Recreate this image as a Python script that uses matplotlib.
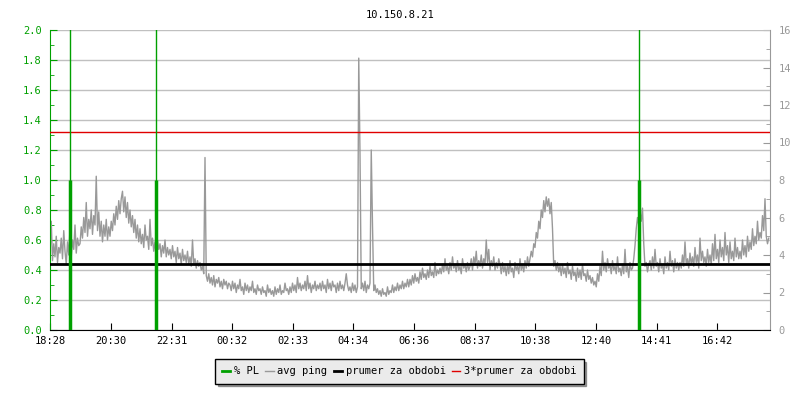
import numpy as np
import matplotlib
matplotlib.use('Agg')
import matplotlib.pyplot as plt
from matplotlib.ticker import MultipleLocator

# data -----------------------------------------------------------------
title = '10.150.8.21'
start = '18:28'
tick_labels = ['18:28', '20:30', '22:31', '00:32', '02:33', '04:34',
               '06:36', '08:37', '10:38', '12:40', '14:41', '16:42']

# avg ping [ms], one value every 2.5 minutes from 18:28 (one row = 1 hour)
ping_ms = [
    4.0, 5.8, 3.7, 4.6, 3.9, 5.0, 3.6, 4.4, 4.1, 4.9, 3.8, 5.3, 4.2, 3.5, 4.7, 4.0, 5.4, 3.9, 4.8, 4.3, 5.6, 4.1, 4.9, 4.5,
    4.6, 5.5, 4.9, 6.0, 5.2, 6.8, 5.0, 5.9, 5.4, 6.4, 5.1, 6.1, 5.6, 8.2, 5.3, 6.3, 5.0, 5.8, 4.7, 5.6, 5.0, 5.9, 4.8, 5.5,
    5.0, 5.8, 5.3, 6.2, 5.6, 6.6, 5.9, 6.9, 6.2, 7.0, 7.4, 6.3, 7.1, 6.0, 6.8, 5.7, 6.4, 5.5, 6.1, 5.2, 5.9, 4.9, 5.6, 4.7,
    5.4, 4.6, 5.1, 4.4, 5.6, 4.8, 5.0, 4.3, 5.9, 4.5, 4.9, 4.2, 4.7, 4.0, 4.8, 4.3, 4.6, 3.9, 4.5, 4.1, 4.8, 3.9, 4.4, 4.0,
    4.3, 3.8, 4.5, 3.9, 4.2, 3.6, 4.4, 3.8, 4.1, 3.5, 4.3, 3.7, 4.0, 3.6, 4.2, 3.5, 3.9, 3.4, 4.8, 3.5, 3.8, 3.3, 3.7, 3.4,
    3.6, 3.2, 3.4, 3.0, 9.2, 2.9, 2.6, 3.0, 2.5, 2.8, 2.4, 2.9, 2.3, 2.7, 2.5, 2.8, 2.3, 2.6, 2.2, 2.7, 2.4, 2.6, 2.2, 2.5,
    2.4, 2.1, 2.6, 2.2, 2.5, 2.0, 2.4, 2.2, 2.7, 2.1, 2.3, 1.9, 2.5, 2.1, 2.4, 2.0, 2.3, 2.1, 2.6, 2.0, 2.2, 1.9, 2.4, 2.1,
    2.2, 1.9, 2.3, 2.0, 2.1, 1.8, 2.4, 2.0, 2.2, 1.9, 2.1, 1.8, 2.3, 1.9, 2.2, 2.0, 2.4, 1.9, 2.1, 2.0, 2.5, 2.1, 2.2, 1.9,
    2.3, 2.0, 2.5, 2.1, 2.4, 2.0, 2.8, 2.2, 2.5, 2.1, 2.4, 2.2, 2.6, 2.1, 2.9, 2.2, 2.5, 2.0, 2.4, 2.2, 2.6, 2.1, 2.4, 2.2,
    2.5, 2.1, 2.6, 2.2, 2.4, 2.0, 2.7, 2.2, 2.5, 2.1, 2.6, 2.3, 2.4, 2.0, 2.5, 2.1, 2.6, 2.2, 2.4, 2.1, 2.5, 3.0, 2.4, 2.1,
    2.3, 2.0, 2.5, 2.1, 2.4, 2.0, 2.3, 14.5, 9.4, 2.2, 2.5, 2.1, 2.6, 2.0, 2.4, 2.2, 2.5, 9.6, 5.6, 2.1, 2.4, 2.0, 2.2, 1.9,
    2.1, 1.8, 2.2, 1.9, 2.0, 1.8, 2.3, 1.9, 2.1, 2.0, 2.4, 2.0, 2.3, 2.1, 2.5, 2.1, 2.4, 2.2, 2.6, 2.2, 2.5, 2.3, 2.7, 2.3,
    2.7, 2.4, 2.9, 2.5, 3.0, 2.6, 2.8, 2.5, 3.1, 2.7, 3.3, 2.8, 3.0, 2.7, 3.2, 2.8, 3.4, 2.9, 3.1, 2.8, 3.6, 2.9, 3.2, 3.0,
    3.3, 3.0, 3.5, 3.1, 3.8, 3.2, 3.4, 3.0, 3.6, 3.2, 3.9, 3.3, 3.5, 3.1, 3.7, 3.2, 3.4, 3.0, 3.8, 3.3, 3.5, 3.1, 3.6, 3.2,
    3.4, 3.8, 3.2, 3.9, 3.5, 4.2, 3.3, 3.7, 3.4, 4.0, 3.3, 3.8, 3.5, 4.8, 3.6, 4.3, 3.2, 3.7, 3.4, 3.9, 3.2, 3.6, 3.3, 3.8,
    3.5, 3.0, 3.6, 3.1, 3.4, 2.9, 3.5, 3.0, 3.7, 3.1, 3.3, 2.8, 3.6, 3.2, 3.4, 3.0, 3.8, 3.2, 3.5, 3.1, 3.7, 3.3, 3.9, 3.4,
    3.8, 4.2, 3.9, 4.6, 4.4, 5.2, 4.9, 5.8, 5.4, 6.4, 6.0, 6.9, 6.3, 7.1, 6.6, 7.0, 6.2, 6.8, 5.4, 3.4, 3.7, 3.2, 3.6, 3.1,
    3.4, 2.9, 3.5, 3.0, 3.3, 2.8, 3.6, 3.0, 3.2, 2.7, 3.4, 2.9, 3.1, 2.6, 3.3, 2.8, 3.2, 2.7, 3.5, 2.9, 3.0, 2.6, 3.2, 2.7,
    2.9, 2.5, 2.8, 2.4, 2.6, 2.3, 3.0, 2.6, 3.4, 2.9, 4.2, 3.2, 3.6, 3.1, 3.8, 3.3, 3.5, 3.0, 3.7, 3.2, 3.4, 3.0, 3.9, 3.1,
    3.3, 2.9, 3.5, 3.0, 4.3, 3.1, 3.4, 2.8, 3.6, 3.2, 3.3, 3.8, 4.5, 5.4, 6.0, 5.6, 6.3, 5.8, 6.5, 4.6, 3.4, 3.6, 3.1, 3.5,
    3.7, 3.2, 3.9, 3.3, 4.3, 3.4, 3.6, 3.1, 3.8, 3.3, 3.5, 3.0, 3.9, 3.3, 3.6, 3.2, 4.2, 3.4, 3.7, 3.1, 3.8, 3.3, 3.6, 3.2,
    3.6, 3.3, 4.0, 3.4, 4.7, 3.5, 3.8, 3.3, 4.1, 3.5, 3.9, 3.4, 4.4, 3.6, 4.0, 3.3, 4.9, 3.7, 4.2, 3.6, 3.9, 3.4, 4.3, 3.6,
    4.0, 3.5, 4.6, 3.7, 5.1, 3.8, 4.3, 3.6, 4.8, 3.9, 4.4, 3.7, 5.2, 4.0, 4.5, 3.6, 4.7, 3.8, 4.2, 3.7, 4.9, 3.9, 4.4, 3.8,
    4.2, 3.8, 4.8, 4.0, 4.5, 3.9, 5.0, 4.2, 4.7, 4.3, 5.4, 4.5, 5.0, 4.6, 5.8, 4.8, 5.2, 4.9, 6.1, 5.3, 7.0, 5.0, 4.6, 4.9,
]

# packet loss events [% PL]
pl_times = ['19:08', '22:00', '14:06']
pl_level = [1.0, 1.0, 1.0]
pl_peak = [3.0, 3.0, 3.0]   # clipped above the axis

prumer_ms = 3.52             # prumer za obdobi (ms)

# helpers --------------------------------------------------------------
def minutes(hhmm):
    h, m = map(int, hhmm.split(':'))
    sh, sm = map(int, start.split(':'))
    return ((h * 60 + m) - (sh * 60 + sm)) % 1440

SCALE = 8.0   # 2.0 % PL  <->  16 ms
green = '#00a000'
grey = '#999999'

plt.rcParams['font.family'] = 'DejaVu Sans Mono'
plt.rcParams['font.size'] = 7.5

fig = plt.figure(figsize=(8, 4), dpi=100)
ax = fig.add_axes([0.0625, 0.175, 0.9, 0.75])

t_ping = np.arange(len(ping_ms)) * 2.5
ax.plot(t_ping, np.array(ping_ms) / SCALE, color=grey, lw=1, zorder=2,
        label='avg ping')

ax.axhline(prumer_ms / SCALE, color='black', lw=2, zorder=3,
           label='prumer za obdobi')
ax.axhline(3 * prumer_ms / SCALE, color='#e00000', lw=1, zorder=3,
           label='3*prumer za obdobi')

pl_x = [minutes(t) for t in pl_times]
ax.vlines(pl_x, 0, pl_peak, color=green, lw=1, zorder=4)
ax.vlines(pl_x, 0, pl_level, color=green, lw=2.5, zorder=4)
ax.plot([], [], color=green, lw=2, label='% PL')

ax.set_xlim(0, 1440)
ax.set_ylim(0, 2.0)
ax.set_xticks([minutes(t) for t in tick_labels])
ax.set_xticklabels(tick_labels)
ax.yaxis.set_major_locator(MultipleLocator(0.2))
ax.yaxis.set_minor_locator(MultipleLocator(0.1))
ax.yaxis.grid(True, color='#c0c0c0', lw=1)
ax.set_axisbelow(True)

ax.tick_params(axis='x', direction='in', length=5, colors='black', pad=4)
ax.tick_params(axis='y', which='both', direction='in', colors=green, pad=6)
ax.tick_params(axis='y', which='major', length=5)
ax.tick_params(axis='y', which='minor', length=3)
ax.spines['top'].set_visible(False)
ax.spines['right'].set_visible(False)
ax.spines['left'].set_color(green)

sec = ax.secondary_yaxis('right', functions=(lambda y: y * SCALE,
                                             lambda y: y / SCALE))
sec.yaxis.set_major_locator(MultipleLocator(2))
sec.yaxis.set_minor_locator(MultipleLocator(1))
sec.tick_params(which='both', direction='in', colors=grey, pad=6)
sec.tick_params(which='major', length=5)
sec.tick_params(which='minor', length=3)
sec.spines['right'].set_color(grey)

fig.suptitle(title, y=0.975, fontsize=7.5)

h, l = ax.get_legend_handles_labels()
order = [l.index(n) for n in ['% PL', 'avg ping', 'prumer za obdobi',
                              '3*prumer za obdobi']]
leg = fig.legend([h[i] for i in order], [l[i] for i in order], ncol=4,
                 loc='upper center', bbox_to_anchor=(0.499, 0.1025),
                 borderaxespad=0, handlelength=0.8, handletextpad=0.35,
                 columnspacing=0.6, fancybox=False, shadow=True,
                 borderpad=0.7, framealpha=1, edgecolor='black')
leg.get_frame().set_facecolor('#ebebeb')

fig.savefig('out.png', dpi=100)
